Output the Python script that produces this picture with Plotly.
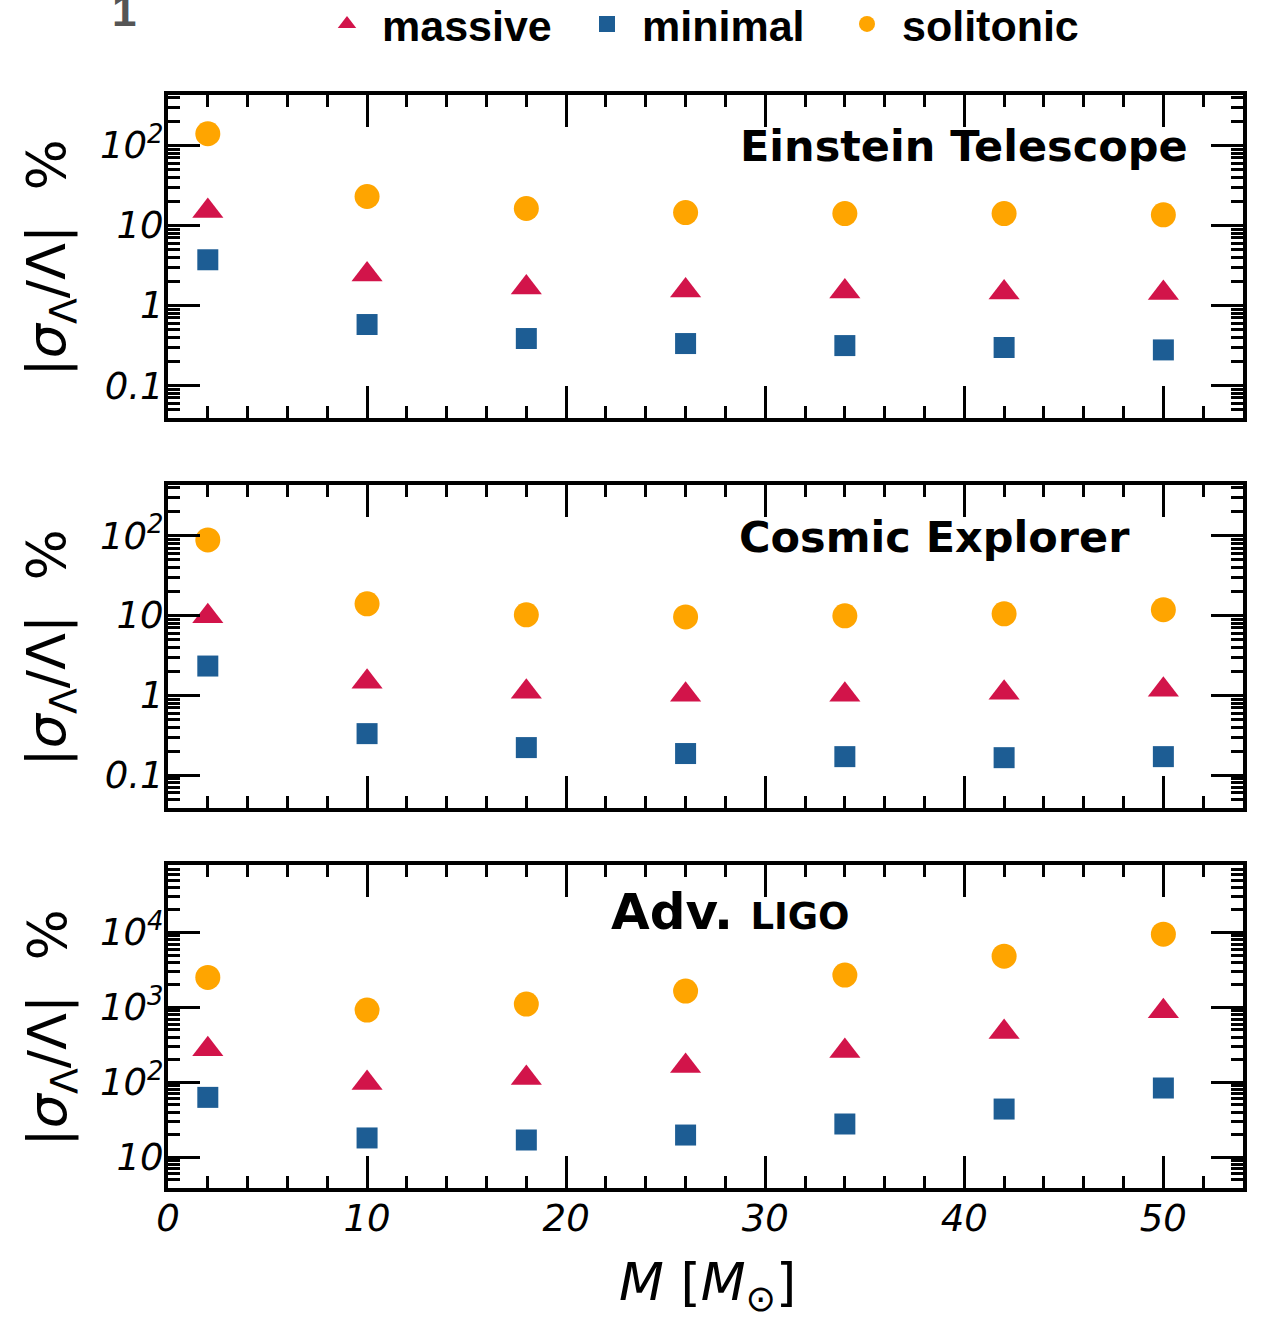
import plotly.graph_objects as go

# ---------------- data ----------------
mass = [2, 10, 18, 26, 34, 42, 50]

et_massive = [15.2, 2.44, 1.68, 1.54, 1.50, 1.45, 1.43]
et_minimal = [3.73, 0.579, 0.387, 0.335, 0.316, 0.299, 0.279]
et_solitonic = [140, 23.0, 16.3, 14.5, 14.1, 14.1, 13.6]

ce_massive = [9.8, 1.48, 1.11, 1.02, 1.02, 1.08, 1.18]
ce_minimal = [2.33, 0.332, 0.222, 0.187, 0.171, 0.166, 0.171]
ce_solitonic = [88.4, 14.0, 10.2, 9.6, 9.9, 10.5, 11.8]

ligo_massive = [276, 98, 114, 165, 261, 468, 891]
ligo_minimal = [63, 18.1, 17.0, 19.8, 27.8, 44, 84]
ligo_solitonic = [2512, 920, 1107, 1649, 2698, 4830, 9490]

series_names = ["massive", "minimal", "solitonic"]
panel_titles = ["<b>Einstein Telescope</b>", "<b>Cosmic Explorer</b>",
                "<b>Adv. <span style='font-size:37px'>LIGO</span></b>"]

x_tickvals = [0, 10, 20, 30, 40, 50]
x_ticktext = ["0", "10", "20", "30", "40", "50"]
y12_tickvals = [0.1, 1, 10, 100]
y12_ticktext = ["0.1", "1", "10", "10<sup>2</sup>"]
y3_tickvals = [10, 100, 1000, 10000]
y3_ticktext = ["10", "10<sup>2</sup>", "10<sup>3</sup>", "10<sup>4</sup>"]

# ---------------- styles ----------------
W, H = 1261, 1320
colors = {"massive": "#D2144A", "minimal": "#1D5D94", "solitonic": "#FFA500"}
symbols = {"massive": "triangle-up", "minimal": "square", "solitonic": "circle"}
sizes = {"massive": 27, "minimal": 21, "solitonic": 25}

panels = [
    (et_massive, et_minimal, et_solitonic),
    (ce_massive, ce_minimal, ce_solitonic),
    (ligo_massive, ligo_minimal, ligo_solitonic),
]

fig = go.Figure()
for i, vals in enumerate(panels):
    for name, v in zip(series_names, vals):
        fig.add_trace(go.Scatter(
            x=mass, y=v, mode="markers", name=name,
            xaxis="x" if i == 0 else f"x{i+1}",
            yaxis="y" if i == 0 else f"y{i+1}",
            marker=dict(symbol=symbols[name], size=sizes[name], color=colors[name],
                        line=dict(width=0)),
            showlegend=(i == 0), legendgroup=name,
        ))

def minor_log(lo, hi):
    vals = []
    for e in range(lo, hi + 1):
        for k in range(2, 10):
            vals.append(k * 10.0 ** e)
    return vals

tickfont = dict(family="DejaVu Sans", size=37, color="black", style="italic")
common = dict(showline=True, linecolor="black", linewidth=4, mirror="allticks",
              ticks="inside", ticklen=32, tickwidth=3, tickcolor="black",
              showgrid=False, zeroline=False, automargin=False, tickfont=tickfont)

xdom = [168 / W, 1243 / W]
ypix = [(95, 418), (485, 808), (865, 1188)]
yranges = [[-1.405, 2.63], [-1.41, 2.634], [0.59, 4.9]]

layout = dict(width=W, height=H, autosize=False,
              margin=dict(l=0, r=0, t=0, b=0, autoexpand=False),
              paper_bgcolor="white", plot_bgcolor="white")

for i in range(3):
    xa = "xaxis" if i == 0 else f"xaxis{i+1}"
    ya = "yaxis" if i == 0 else f"yaxis{i+1}"
    top, bot = ypix[i]
    layout[xa] = dict(common, domain=xdom, range=[0, 54],
                      anchor="y" if i == 0 else f"y{i+1}",
                      tickmode="array", tickvals=x_tickvals, ticktext=x_ticktext,
                      showticklabels=(i == 2), ticklabelstandoff=-5,
                      minor=dict(ticks="inside", ticklen=12, tickwidth=2.5,
                                 tickcolor="black", dtick=2, tick0=0))
    if i < 2:
        tv, tt, mv = y12_tickvals, y12_ticktext, minor_log(-2, 2)
    else:
        tv, tt, mv = y3_tickvals, y3_ticktext, minor_log(0, 4)
    layout[ya] = dict(common, domain=[1 - bot / H, 1 - top / H], type="log",
                      range=yranges[i], anchor="x" if i == 0 else f"x{i+1}",
                      tickmode="array", tickvals=tv, ticktext=tt,
                      ticklabelstandoff=-7,
                      minor=dict(ticks="inside", ticklen=12, tickwidth=2.5,
                                 tickcolor="black", tickmode="array", tickvals=mv))

fig.update_layout(**layout)

annotations = []
# y-axis titles
ytitle = "|<i>σ</i><sub>Λ</sub>/Λ|\u00a0\u00a0%"
for top, bot in ypix:
    annotations.append(dict(text=ytitle, x=50 / W, y=1 - ((top + bot) / 2 + 2) / H,
                            xref="paper", yref="paper", xanchor="center", yanchor="middle",
                            textangle=-90, showarrow=False,
                            font=dict(family="DejaVu Sans", size=54, color="black")))
# x-axis title
annotations.append(dict(text="<i>M</i> [<i>M</i><sub>⊙</sub>]", x=707 / W, y=1 - 1286 / H,
                        xref="paper", yref="paper", xanchor="center", yanchor="middle",
                        showarrow=False,
                        font=dict(family="DejaVu Sans", size=52, color="black")))
# panel titles
annotations.append(dict(text=panel_titles[0], x=1190 / W, y=1 - 146 / H, xref="paper",
                        yref="paper", xanchor="right", yanchor="middle", showarrow=False,
                        font=dict(family="DejaVu Sans", size=43, color="black")))
annotations.append(dict(text=panel_titles[1], x=1132 / W, y=1 - 537 / H, xref="paper",
                        yref="paper", xanchor="right", yanchor="middle", showarrow=False,
                        font=dict(family="DejaVu Sans", size=43, color="black")))
annotations.append(dict(text=panel_titles[2], x=730 / W, y=1 - 912 / H, xref="paper",
                        yref="paper", xanchor="center", yanchor="middle", showarrow=False,
                        font=dict(family="DejaVu Sans", size=50, color="black")))
# clipped figure label at the top-left
annotations.append(dict(text="1", x=124 / W, y=1 - 37 / H, xref="paper", yref="paper",
                        xanchor="center", yanchor="bottom", showarrow=False,
                        font=dict(family="Liberation Sans", size=44, color="#555555",
                                  weight="bold")))

fig.update_layout(
    annotations=annotations,
    legend=dict(orientation="h", x=312 / W, xanchor="left", y=1 - 24 / H, yanchor="middle",
                font=dict(family="Liberation Sans", size=43, color="black", weight="bold"),
                itemwidth=60, entrywidth=185, bgcolor="rgba(0,0,0,0)", borderwidth=0,
                traceorder="normal"),
)

fig.write_html("out.html", config={"displayModeBar": False})
